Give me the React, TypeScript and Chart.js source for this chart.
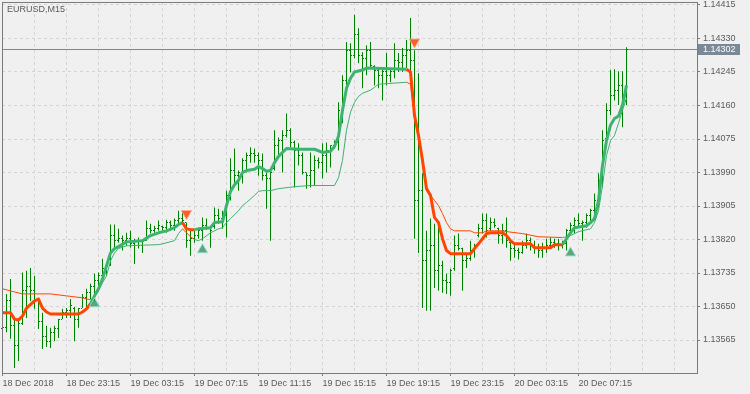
import React, { useEffect, useRef } from 'react';
import { Chart, registerables } from 'chart.js';

Chart.register(...registerables);

const SYMBOL_TITLE = 'EURUSD,M15';
const CURRENT_PRICE = 1.14302;
const PRICE_TICKS = [1.14415, 1.1433, 1.14245, 1.1416, 1.14075, 1.1399, 1.13905, 1.1382, 1.13735, 1.1365, 1.13565];
const GRID_BARS = [0, 8, 16, 24, 32, 40, 48, 56, 64, 72, 80, 88, 96, 104, 112, 120, 128, 136, 144, 152, 160, 168];
const TIME_TICK_BARS = [0, 16, 32, 48, 64, 80, 96, 112, 128, 144];
const TIME_LABELS = ['18 Dec 2018', '18 Dec 23:15', '19 Dec 03:15', '19 Dec 07:15', '19 Dec 11:15', '19 Dec 15:15', '19 Dec 19:15', '19 Dec 23:15', '20 Dec 03:15', '20 Dec 07:15'];

const OPEN = [1.13593,1.13598,1.13664,1.13601,1.1355,1.13608,1.1369,1.13702,1.1369,1.13664,1.13613,1.13575,1.13562,1.13583,1.13593,1.13618,1.13634,1.13639,1.13644,1.13618,1.13646,1.13672,1.13685,1.13702,1.13715,1.13728,1.13746,1.13753,1.1383,1.13817,1.13822,1.13817,1.13822,1.13809,1.13817,1.13804,1.13817,1.13847,1.13842,1.13847,1.13853,1.1385,1.13863,1.13855,1.13868,1.13873,1.13863,1.13817,1.13822,1.1383,1.13842,1.13855,1.1385,1.13853,1.13881,1.13873,1.13881,1.13932,1.13995,1.13982,1.1399,1.14021,1.14033,1.14038,1.14033,1.14021,1.13982,1.13975,1.14,1.14059,1.14071,1.14084,1.14097,1.14066,1.14046,1.14033,1.1399,1.13982,1.13995,1.14021,1.14015,1.14033,1.14046,1.14059,1.14066,1.14148,1.14224,1.143,1.14288,1.14339,1.14288,1.1428,1.143,1.1426,1.1425,1.14237,1.14245,1.14237,1.14245,1.14275,1.1427,1.14288,1.143,1.14275,1.13919,1.13944,1.13766,1.13792,1.13804,1.13741,1.13753,1.13715,1.1371,1.13746,1.13804,1.13797,1.13766,1.13771,1.13792,1.1383,1.13847,1.13868,1.13847,1.13863,1.13847,1.1383,1.13842,1.13812,1.13797,1.13792,1.13786,1.13804,1.13817,1.13804,1.13797,1.13792,1.13797,1.13804,1.13812,1.13809,1.13804,1.13809,1.13842,1.13855,1.13868,1.1386,1.13863,1.13881,1.13893,1.13919,1.1397,1.14077,1.14148,1.14186,1.14199,1.14211,1.14173];
const HIGH = [1.13608,1.13682,1.1372,1.13624,1.13618,1.13736,1.13741,1.13748,1.13728,1.13672,1.13634,1.13601,1.13596,1.13601,1.13618,1.13644,1.13646,1.13669,1.13649,1.13646,1.13682,1.13695,1.13708,1.13733,1.13736,1.13771,1.13758,1.13858,1.13858,1.13847,1.1383,1.13837,1.13842,1.13822,1.13825,1.13817,1.13868,1.1386,1.13855,1.13868,1.13855,1.1387,1.13868,1.13873,1.13893,1.13893,1.13863,1.13847,1.13842,1.1385,1.13876,1.13873,1.13855,1.13901,1.13898,1.13893,1.13944,1.14026,1.14051,1.13995,1.14026,1.14041,1.14054,1.14051,1.14041,1.14038,1.1399,1.13995,1.14097,1.14079,1.14097,1.1414,1.14102,1.14071,1.14064,1.14041,1.1399,1.14041,1.14033,1.14028,1.14064,1.14066,1.14059,1.14071,1.14168,1.14237,1.14321,1.14318,1.1439,1.14356,1.14295,1.14313,1.14321,1.14262,1.14255,1.1425,1.14293,1.1425,1.14318,1.14293,1.14306,1.14326,1.14382,1.143,1.14242,1.13988,1.13842,1.13873,1.1386,1.1386,1.13766,1.13733,1.13746,1.1383,1.13835,1.13799,1.13784,1.13817,1.13809,1.1386,1.13886,1.13886,1.13876,1.13873,1.1385,1.1386,1.13876,1.13817,1.13809,1.13799,1.13817,1.13835,1.13825,1.13817,1.13809,1.13812,1.13822,1.13825,1.13822,1.13822,1.13817,1.13847,1.13863,1.13876,1.13886,1.13868,1.13886,1.13898,1.13937,1.13988,1.14097,1.14166,1.1425,1.14252,1.14247,1.14247,1.14308];
const LOW = [1.13588,1.13585,1.13568,1.13494,1.13512,1.13603,1.13621,1.13664,1.13644,1.13593,1.13542,1.13547,1.13545,1.13562,1.1357,1.13618,1.13621,1.13621,1.13562,1.13596,1.13646,1.13646,1.13669,1.13664,1.1369,1.1372,1.13728,1.13753,1.13799,1.13812,1.13792,1.13804,1.13799,1.13758,1.13797,1.13786,1.13817,1.13835,1.13837,1.13842,1.13842,1.13837,1.13842,1.13842,1.13855,1.13863,1.13799,1.13779,1.13812,1.13822,1.13817,1.13845,1.13799,1.13847,1.1386,1.13847,1.13825,1.13919,1.13964,1.13944,1.13962,1.1399,1.14015,1.14015,1.13982,1.1397,1.13898,1.13817,1.13995,1.14026,1.1399,1.14079,1.14054,1.13952,1.14008,1.13985,1.13949,1.13952,1.13957,1.14,1.13975,1.1399,1.14003,1.14051,1.14046,1.14115,1.14211,1.14244,1.1428,1.14267,1.14204,1.14237,1.14257,1.14211,1.14204,1.14173,1.14211,1.14219,1.14229,1.14245,1.14245,1.14255,1.14224,1.13822,1.13786,1.13646,1.13639,1.13639,1.13697,1.1369,1.13685,1.13682,1.13677,1.13741,1.13792,1.1369,1.13748,1.13766,1.13774,1.13825,1.13835,1.13825,1.13842,1.1385,1.13809,1.13809,1.13799,1.13766,1.13774,1.13769,1.13784,1.13797,1.13792,1.13784,1.13774,1.13774,1.13786,1.13797,1.13799,1.13792,1.13797,1.13792,1.13835,1.13835,1.1385,1.13817,1.1385,1.1386,1.13868,1.13901,1.13952,1.14071,1.14135,1.14173,1.14161,1.14105,1.14161];
const CLOSE = [1.13598,1.13664,1.13601,1.1355,1.13608,1.1369,1.13702,1.1369,1.13664,1.13613,1.13575,1.13562,1.13583,1.13593,1.13618,1.13634,1.13639,1.13652,1.13618,1.13646,1.13672,1.13685,1.13702,1.13715,1.13728,1.13746,1.13753,1.1383,1.13817,1.13822,1.13817,1.13822,1.13809,1.13817,1.13804,1.13814,1.13847,1.13842,1.13847,1.13855,1.1385,1.13863,1.13855,1.13868,1.13873,1.13868,1.13817,1.13822,1.1383,1.13842,1.13855,1.1385,1.13842,1.13881,1.13873,1.13881,1.13932,1.13995,1.13982,1.1399,1.14021,1.14033,1.14038,1.14033,1.14021,1.13982,1.13975,1.1399,1.14059,1.14071,1.14084,1.14097,1.14066,1.14046,1.14033,1.1399,1.13982,1.13995,1.14021,1.14015,1.14033,1.14046,1.14059,1.14066,1.14148,1.14224,1.143,1.14288,1.14339,1.14288,1.1428,1.143,1.14262,1.1425,1.14237,1.14245,1.14237,1.14245,1.14275,1.1427,1.14288,1.143,1.14275,1.13919,1.13944,1.13766,1.13792,1.13804,1.13741,1.13753,1.13715,1.1371,1.13741,1.13804,1.13797,1.13766,1.13771,1.13792,1.13804,1.13847,1.13868,1.13842,1.13863,1.13855,1.1383,1.13842,1.13817,1.13797,1.13792,1.13786,1.13804,1.13817,1.13804,1.13797,1.13792,1.13797,1.13804,1.13812,1.13809,1.13804,1.13809,1.13842,1.13855,1.13868,1.1386,1.13863,1.13881,1.13893,1.13919,1.1397,1.14071,1.14148,1.14186,1.14199,1.14211,1.14173,1.14302];

const THICK_BARS = [0,2,3,4,5,6,8,9,10,11,12,19,20,21,22,23,24,25,26,27,28,29,31,35,37,39,41,43,44,45,46,47,48,49,52,53,55,56,57,58,59,60,61,63,64,65,66,67,68,69,71,74,78,80,82,83,84,85,86,87,88,90,91,101,102,103,104,105,106,107,108,109,110,111,112,117,118,119,120,121,122,125,126,127,128,132,133,137,138,140,141,142,143,146,147,148,149,150,151,152,153,154,155,156];
const THICK_VALUES = [1.13634,1.13634,1.13618,1.13616,1.13626,1.13646,1.13664,1.13669,1.13646,1.13636,1.13631,1.13631,1.13636,1.13644,1.13657,1.13677,1.13695,1.1372,1.13753,1.13786,1.13797,1.13802,1.13814,1.13817,1.1383,1.13837,1.13842,1.1385,1.13858,1.13863,1.13847,1.13845,1.13845,1.13847,1.1385,1.13863,1.13865,1.13906,1.13942,1.13959,1.1397,1.1399,1.13995,1.13998,1.14005,1.14,1.13993,1.13995,1.14015,1.14031,1.14051,1.14049,1.14049,1.14041,1.14044,1.14056,1.14082,1.14148,1.14204,1.14229,1.14245,1.1425,1.14255,1.14252,1.14245,1.14135,1.14084,1.14021,1.13949,1.13932,1.13876,1.13863,1.13822,1.13792,1.13784,1.13784,1.13797,1.13809,1.13822,1.13835,1.13837,1.13837,1.1383,1.13817,1.13809,1.13809,1.13799,1.13799,1.13807,1.13807,1.13822,1.13837,1.1385,1.13855,1.13863,1.13873,1.13919,1.14008,1.14071,1.1411,1.14127,1.14133,1.14161,1.14211];
const THICK_DIRS = [-1,-1,-1,-1,-1,-1,-1,-1,-1,-1,-1,-1,-1,-1,-1,1,1,1,1,1,1,1,1,1,1,1,1,1,1,1,-1,-1,-1,1,1,1,1,1,1,1,1,1,1,1,1,1,1,1,1,1,1,1,1,1,1,1,1,1,1,1,1,1,1,1,-1,-1,-1,-1,-1,-1,-1,-1,-1,-1,-1,-1,-1,-1,-1,-1,-1,-1,-1,-1,-1,-1,-1,-1,-1,-1,1,1,1,1,1,1,1,1,1,1,1,1,1,1];

const THIN_BARS = [0,3,5,12,16,20,22,23,24,25,26,27,28,29,31,39,40,43,44,45,46,47,48,49,50,52,54,55,56,57,59,60,61,63,64,65,67,69,73,77,83,84,85,86,87,88,89,90,92,93,94,101,102,103,104,105,106,107,108,109,110,111,112,113,117,118,120,121,125,126,130,134,140,141,142,144,147,148,149,150,151,152,153,154,155,156];
const THIN_VALUES = [1.13695,1.13687,1.13682,1.13682,1.13677,1.13672,1.13667,1.13674,1.1369,1.1371,1.13728,1.13766,1.13786,1.13797,1.13804,1.13807,1.13809,1.13817,1.13835,1.13847,1.13837,1.13827,1.1382,1.13817,1.13822,1.13837,1.13847,1.1385,1.13863,1.13873,1.13893,1.13906,1.13914,1.13932,1.13942,1.13944,1.13944,1.13949,1.13954,1.13957,1.13957,1.13977,1.14021,1.14097,1.14143,1.14168,1.14183,1.14191,1.14199,1.14206,1.14214,1.14219,1.14214,1.14135,1.14084,1.14021,1.13954,1.13932,1.13919,1.13906,1.13886,1.13863,1.13847,1.13842,1.13842,1.13837,1.13837,1.13842,1.13842,1.1384,1.13835,1.13827,1.13825,1.13827,1.1383,1.1384,1.13847,1.13863,1.13893,1.13957,1.14033,1.14071,1.14084,1.14115,1.14148,1.14178];
const THIN_DIRS = [-1,-1,-1,-1,-1,-1,-1,1,1,1,1,1,1,1,1,1,1,1,1,1,-1,-1,-1,1,1,1,1,1,1,1,1,1,1,1,1,1,1,1,1,1,1,1,1,1,1,1,1,1,1,1,1,1,-1,-1,-1,-1,-1,-1,-1,-1,-1,-1,-1,-1,-1,-1,-1,-1,-1,-1,-1,-1,-1,1,1,1,1,1,1,1,1,1,1,1,1,1];

const UP_ARROW_BARS = [23, 50, 142];
const UP_ARROW_VALUES = [1.13657, 1.13794, 1.13786];
const DOWN_ARROW_BARS = [46, 103];
const DOWN_ARROW_VALUES = [1.13886, 1.14321];

const BG = '#f0f0f0';
const BAR_GREEN = '#008000';
const UP_COLOR = '#3cb371';
const DOWN_COLOR = '#ff4500';
const FRAME = '#7a7a7a';
const GRID = '#d4d4d4';
const TEXT = '#5a5a5a';
const FONT_FAMILY = '"Liberation Sans", Arial, sans-serif';

// plot frame inside the 750x394 canvas
const AREA = { left: 2, top: 2, right: 697, bottom: 373 };

const App = () => {
  const canvasRef = useRef<HTMLCanvasElement | null>(null);

  useEffect(() => {
    document.body.style.margin = '0';
    document.body.style.background = BG;
    const canvas = canvasRef.current;
    if (!canvas) return;

    const mtPlugin = {
      id: 'mtLook',
      afterLayout(chart: any) {
        const a = chart.chartArea;
        a.left = AREA.left;
        a.top = AREA.top;
        a.right = AREA.right;
        a.bottom = AREA.bottom;
        a.width = AREA.right - AREA.left;
        a.height = AREA.bottom - AREA.top;
        const xs = chart.scales.x;
        xs.left = AREA.left;
        xs.right = AREA.right;
        xs.width = AREA.right - AREA.left;
        xs.top = AREA.bottom;
        xs.bottom = chart.height;
        xs.height = chart.height - AREA.bottom;
        xs.configure();
        const ys = chart.scales.y;
        ys.top = AREA.top;
        ys.bottom = AREA.bottom;
        ys.height = AREA.bottom - AREA.top;
        ys.left = AREA.right;
        ys.right = chart.width;
        ys.width = chart.width - AREA.right;
        ys.configure();
      },
      beforeDraw(chart: any) {
        const c = chart.ctx;
        c.save();
        c.fillStyle = BG;
        c.fillRect(0, 0, chart.width, chart.height);
        c.restore();
      },
      beforeDatasetsDraw(chart: any) {
        const c = chart.ctx;
        const y = Math.floor(chart.scales.y.getPixelForValue(CURRENT_PRICE));
        const a = chart.chartArea;
        c.save();
        c.fillStyle = '#7e8893';
        c.fillRect(a.left, y, a.right - a.left, 1);
        c.restore();
      },
      afterDatasetDraw(chart: any, args: any) {
        if (args.index !== 0) return;
        const c = chart.ctx;
        const xs = chart.scales.x;
        const ys = chart.scales.y;
        c.save();
        c.fillStyle = BAR_GREEN;
        for (let i = 0; i < OPEN.length; i++) {
          const col = Math.floor(xs.getPixelForValue(i));
          const yo = Math.floor(ys.getPixelForValue(OPEN[i]));
          const yc = Math.floor(ys.getPixelForValue(CLOSE[i]));
          c.fillRect(col - 1, yo, 1, 1);
          c.fillRect(col + 1, yc, 1, 1);
        }
        c.restore();
      },
      afterDraw(chart: any) {
        const c = chart.ctx;
        const a = chart.chartArea;
        c.save();
        c.fillStyle = FRAME;
        c.fillRect(a.left, a.top, 1, a.bottom - a.top + 1);
        c.fillRect(a.left, a.top, a.right - a.left + 1, 1);
        c.fillRect(a.right, a.top, 1, a.bottom - a.top + 1);
        c.fillRect(a.left, a.bottom, a.right - a.left + 1, 1);
        c.fillStyle = TEXT;
        c.font = '9px ' + FONT_FAMILY;
        c.textBaseline = 'middle';
        c.textAlign = 'left';
        c.fillText(SYMBOL_TITLE, 7, 9.5);
        const y = Math.floor(chart.scales.y.getPixelForValue(CURRENT_PRICE));
        c.fillStyle = '#7b8896';
        c.fillRect(a.right + 1, y - 5, 42, 11);
        c.fillStyle = '#ffffff';
        c.fillText(CURRENT_PRICE.toFixed(5), a.right + 6, y + 0.5);
        c.restore();
      },
    };

    const chart = new Chart(canvas, {
      type: 'bar',
      data: {
        datasets: [
          {
            type: 'bar',
            label: 'bars',
            data: HIGH.map((h, i) => ({ x: i, y: [LOW[i], h] })) as any,
            backgroundColor: BAR_GREEN,
            borderWidth: 0,
            inflateAmount: 0,
            barThickness: 1,
            order: 3,
          } as any,
          {
            type: 'line',
            label: 'slow',
            data: THIN_BARS.map((b, i) => ({ x: b, y: THIN_VALUES[i] })),
            borderWidth: 1,
            pointRadius: 0,
            borderColor: UP_COLOR,
            segment: {
              borderColor: (ctx: any) => (THIN_DIRS[ctx.p1DataIndex] > 0 ? UP_COLOR : DOWN_COLOR),
            },
            order: 2,
          } as any,
          {
            type: 'line',
            label: 'fast',
            data: THICK_BARS.map((b, i) => ({ x: b, y: THICK_VALUES[i] })),
            borderWidth: 3,
            pointRadius: 0,
            borderColor: UP_COLOR,
            borderJoinStyle: 'round',
            segment: {
              borderColor: (ctx: any) => (THICK_DIRS[ctx.p1DataIndex] > 0 ? UP_COLOR : DOWN_COLOR),
            },
            order: 1,
          } as any,
          {
            type: 'scatter',
            label: 'buy',
            data: UP_ARROW_BARS.map((b, i) => ({ x: b, y: UP_ARROW_VALUES[i] })),
            pointStyle: 'triangle',
            pointRadius: 6,
            backgroundColor: 'rgba(46,139,87,0.75)',
            borderColor: 'rgba(150,225,210,0.9)',
            borderWidth: 1,
            order: 0,
          } as any,
          {
            type: 'scatter',
            label: 'sell',
            data: DOWN_ARROW_BARS.map((b, i) => ({ x: b, y: DOWN_ARROW_VALUES[i] })),
            pointStyle: 'triangle',
            rotation: 180,
            pointRadius: 6,
            backgroundColor: 'rgba(255,69,0,0.85)',
            borderColor: 'rgba(255,170,150,0.9)',
            borderWidth: 1,
            order: 0,
          } as any,
        ],
      },
      options: {
        responsive: false,
        animation: false,
        devicePixelRatio: 1,
        layout: { padding: { left: 2, top: 2, right: 0, bottom: 0 } },
        plugins: { legend: { display: false }, tooltip: { enabled: false } },
        scales: {
          x: {
            type: 'linear',
            min: -0.125,
            max: 173.625,
            offset: false,
            afterBuildTicks: (s: any) => {
              s.ticks = GRID_BARS.map((v) => ({ value: v }));
            },
            grid: {
              offset: false,
              color: (ctx: any) => (ctx.tick && ctx.tick.value === 0 ? 'rgba(0,0,0,0)' : GRID),
              borderDash: [3, 3],
              tickBorderDash: [],
              tickLength: 3,
              tickColor: (ctx: any) => (ctx.tick && TIME_TICK_BARS.includes(ctx.tick.value) ? FRAME : 'rgba(0,0,0,0)'),
            },
            border: { display: false, dash: [3, 3] },
            ticks: {
              autoSkip: false,
              maxRotation: 0,
              minRotation: 0,
              align: 'start',
              padding: 2,
              color: TEXT,
              font: { family: FONT_FAMILY, size: 9 },
              callback: (v: any) => {
                const k = TIME_TICK_BARS.indexOf(Number(v));
                return k >= 0 ? TIME_LABELS[k] : '';
              },
            },
          },
          y: {
            type: 'linear',
            position: 'right',
            min: 1.134813,
            max: 1.144226,
            afterBuildTicks: (s: any) => {
              s.ticks = PRICE_TICKS.map((v) => ({ value: v }));
            },
            grid: {
              color: GRID,
              borderDash: [3, 3],
              tickBorderDash: [],
              tickLength: 3,
              tickColor: FRAME,
            },
            border: { display: false, dash: [3, 3] },
            ticks: {
              padding: 3,
              color: TEXT,
              font: { family: FONT_FAMILY, size: 9 },
              callback: (v: any) => Number(v).toFixed(5),
            },
          },
        },
      } as any,
      plugins: [mtPlugin],
    });

    return () => chart.destroy();
  }, []);

  return (
    <div style={{ width: 750, height: 394 }}>
      <canvas ref={canvasRef} width={750} height={394} style={{ display: 'block', width: 750, height: 394 }} />
    </div>
  );
};

export default App;
